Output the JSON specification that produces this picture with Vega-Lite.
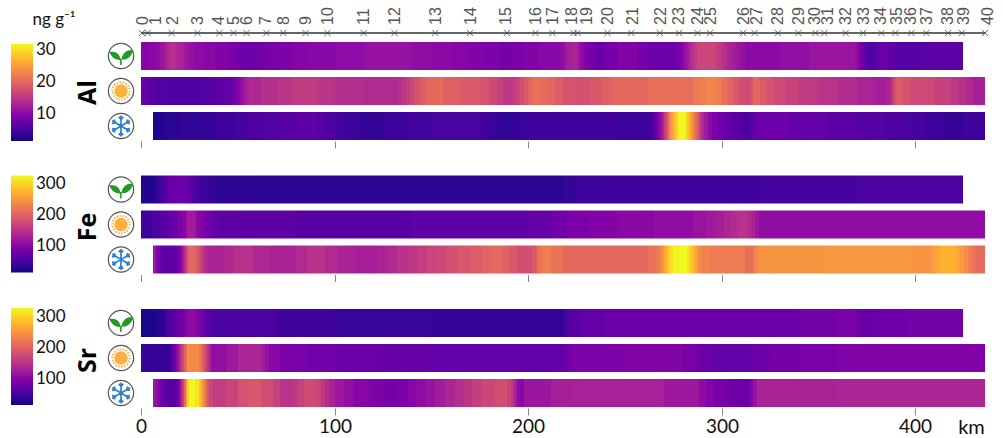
{"$schema":"https://vega.github.io/schema/vega-lite/v6.json","background":"white","padding":{"left":11,"top":7,"right":0,"bottom":0},"config":{"view":{"stroke":null},"font":"Lato"},"resolve":{"scale":{"color":"independent"},"legend":{"color":"independent"}},"datasets":{
"stations":[{"st":"0","km":0.5,"lx":0.8},{"st":"1","km":3.4,"lx":8},{"st":"2","km":15.8,"lx":16.3},{"st":"3","km":29.2,"lx":29.2},{"st":"4","km":40.5,"lx":40.5},{"st":"5","km":47.8,"lx":48.3},{"st":"6","km":54.5,"lx":55},{"st":"7","km":64.8,"lx":64.8},{"st":"8","km":73.5,"lx":74},{"st":"9","km":85,"lx":85},{"st":"10","km":96.3,"lx":96.8},{"st":"11","km":115,"lx":115.4},{"st":"12","km":131,"lx":131.4},{"st":"13","km":152,"lx":152.6},{"st":"14","km":170,"lx":170.6},{"st":"15","km":189,"lx":188.8},{"st":"16","km":203.8,"lx":204.3},{"st":"17","km":212.5,"lx":213},{"st":"18","km":223.4,"lx":222.4},{"st":"19","km":225.5,"lx":230.6},{"st":"20","km":241,"lx":241.5},{"st":"21","km":253.3,"lx":254},{"st":"22","km":268,"lx":268.8},{"st":"23","km":278,"lx":278},{"st":"24","km":287.5,"lx":287.5},{"st":"25","km":294,"lx":294.6},{"st":"26","km":311,"lx":311.5},{"st":"27","km":317,"lx":318.4},{"st":"28","km":329,"lx":329},{"st":"29","km":339.6,"lx":340},{"st":"30","km":348.4,"lx":348.4},{"st":"31","km":353,"lx":355},{"st":"32","km":364,"lx":364},{"st":"33","km":373,"lx":373.7},{"st":"34","km":382.5,"lx":382.5},{"st":"35","km":389.7,"lx":390.7},{"st":"36","km":398,"lx":398},{"st":"37","km":405.7,"lx":406},{"st":"38","km":417,"lx":417},{"st":"39","km":424,"lx":425.3},{"st":"40","km":436,"lx":437.6}],
"icons":[{"season":"spring","km":-10.5},{"season":"summer","km":-10.5},{"season":"winter","km":-10.5}],
"alSpring":[{"from":0,"to":4,"value":9.8},{"from":4,"to":8,"value":10.1},{"from":8,"to":10,"value":10.6},{"from":10,"to":12,"value":11.4},{"from":12,"to":13,"value":12.2},{"from":13,"to":14,"value":12.9},{"from":14,"to":15,"value":13.5},{"from":15,"to":17,"value":14.3},{"from":17,"to":18,"value":13.9},{"from":18,"to":20,"value":13.4},{"from":20,"to":22,"value":12.7},{"from":22,"to":24,"value":12},{"from":24,"to":26,"value":11.4},{"from":26,"to":28,"value":11},{"from":28,"to":32,"value":10.6},{"from":32,"to":38,"value":10},{"from":38,"to":45,"value":9.5},{"from":45,"to":48,"value":9},{"from":48,"to":51,"value":8.5},{"from":51,"to":55,"value":8},{"from":55,"to":60,"value":7.8},{"from":60,"to":65,"value":8.3},{"from":65,"to":70,"value":8.7},{"from":70,"to":78,"value":9.2},{"from":78,"to":85,"value":9.6},{"from":85,"to":100,"value":10},{"from":100,"to":115,"value":10.5},{"from":115,"to":140,"value":11.1},{"from":140,"to":150,"value":10.7},{"from":150,"to":160,"value":10.3},{"from":160,"to":170,"value":9.9},{"from":170,"to":178,"value":9.5},{"from":178,"to":186,"value":8.9},{"from":186,"to":192,"value":8.4},{"from":192,"to":198,"value":8.8},{"from":198,"to":205,"value":9.4},{"from":205,"to":216,"value":10},{"from":216,"to":218,"value":10.6},{"from":218,"to":219,"value":11.2},{"from":219,"to":220,"value":11.8},{"from":220,"to":222,"value":12.6},{"from":222,"to":225,"value":13.1},{"from":225,"to":226,"value":12.4},{"from":226,"to":227,"value":11.6},{"from":227,"to":228,"value":10.9},{"from":228,"to":229,"value":10.2},{"from":229,"to":230,"value":9.6},{"from":230,"to":232,"value":9},{"from":232,"to":235,"value":8.4},{"from":235,"to":240,"value":7.8},{"from":240,"to":246,"value":8.5},{"from":246,"to":252,"value":9.6},{"from":252,"to":257,"value":9.3},{"from":257,"to":262,"value":8.6},{"from":262,"to":276,"value":7.8},{"from":276,"to":278,"value":8.3},{"from":278,"to":279,"value":9},{"from":279,"to":280,"value":9.8},{"from":280,"to":281,"value":10.6},{"from":281,"to":282,"value":11.4},{"from":282,"to":283,"value":12.3},{"from":283,"to":284,"value":13.3},{"from":284,"to":285,"value":14.2},{"from":285,"to":286,"value":15},{"from":286,"to":287,"value":15.8},{"from":287,"to":290,"value":16.5},{"from":290,"to":296,"value":16.8},{"from":296,"to":298,"value":16.2},{"from":298,"to":300,"value":15.2},{"from":300,"to":302,"value":14.4},{"from":302,"to":304,"value":13.6},{"from":304,"to":306,"value":12.8},{"from":306,"to":308,"value":12.2},{"from":308,"to":310,"value":11.6},{"from":310,"to":312,"value":11},{"from":312,"to":330,"value":10.3},{"from":330,"to":345,"value":10.8},{"from":345,"to":369,"value":11.5},{"from":369,"to":370,"value":11},{"from":370,"to":371,"value":10.2},{"from":371,"to":372,"value":9.2},{"from":372,"to":373,"value":8.2},{"from":373,"to":374,"value":7.2},{"from":374,"to":375,"value":6.4},{"from":375,"to":379,"value":5.7},{"from":379,"to":382,"value":6.8},{"from":382,"to":386,"value":7.6},{"from":386,"to":390,"value":6.6},{"from":390,"to":405,"value":6.1},{"from":405,"to":424.8,"value":6.6}],
"alSummer":[{"from":0,"to":2,"value":7.5},{"from":2,"to":4,"value":6.9},{"from":4,"to":8,"value":6.3},{"from":8,"to":15,"value":5.7},{"from":15,"to":30,"value":5.4},{"from":30,"to":36,"value":5.9},{"from":36,"to":42,"value":6.5},{"from":42,"to":47,"value":7.1},{"from":47,"to":48,"value":7.6},{"from":48,"to":49,"value":8.2},{"from":49,"to":50,"value":8.9},{"from":50,"to":51,"value":9.6},{"from":51,"to":52,"value":10.5},{"from":52,"to":53,"value":11.4},{"from":53,"to":54,"value":12.1},{"from":54,"to":56,"value":12.9},{"from":56,"to":62,"value":13.5},{"from":62,"to":70,"value":14.2},{"from":70,"to":78,"value":14.8},{"from":78,"to":92,"value":15.5},{"from":92,"to":100,"value":14.7},{"from":100,"to":115,"value":14.1},{"from":115,"to":133,"value":13.7},{"from":133,"to":135,"value":14.2},{"from":135,"to":137,"value":15},{"from":137,"to":139,"value":15.9},{"from":139,"to":141,"value":16.9},{"from":141,"to":143,"value":17.8},{"from":143,"to":145,"value":18.6},{"from":145,"to":147,"value":19.4},{"from":147,"to":150,"value":20.2},{"from":150,"to":156,"value":20.4},{"from":156,"to":165,"value":19.4},{"from":165,"to":175,"value":18.7},{"from":175,"to":180,"value":18},{"from":180,"to":184,"value":17},{"from":184,"to":187,"value":16},{"from":187,"to":192,"value":15.2},{"from":192,"to":194,"value":15.8},{"from":194,"to":196,"value":16.6},{"from":196,"to":198,"value":17.5},{"from":198,"to":200,"value":18.6},{"from":200,"to":202,"value":19.8},{"from":202,"to":206,"value":21},{"from":206,"to":210,"value":20.6},{"from":210,"to":214,"value":19.9},{"from":214,"to":218,"value":19},{"from":218,"to":224,"value":18},{"from":224,"to":232,"value":17.7},{"from":232,"to":238,"value":18.6},{"from":238,"to":244,"value":19.5},{"from":244,"to":262,"value":20.2},{"from":262,"to":285,"value":20.9},{"from":285,"to":289,"value":21.7},{"from":289,"to":292,"value":22.4},{"from":292,"to":297,"value":23},{"from":297,"to":300,"value":22.2},{"from":300,"to":303,"value":21},{"from":303,"to":306,"value":19.9},{"from":306,"to":309,"value":18.6},{"from":309,"to":315,"value":17.5},{"from":315,"to":316,"value":18.6},{"from":316,"to":318,"value":20.2},{"from":318,"to":320,"value":19.8},{"from":320,"to":323,"value":18.9},{"from":323,"to":327,"value":18},{"from":327,"to":333,"value":17},{"from":333,"to":340,"value":16.2},{"from":340,"to":350,"value":15.3},{"from":350,"to":360,"value":14.6},{"from":360,"to":370,"value":13.9},{"from":370,"to":378,"value":13},{"from":378,"to":385,"value":12.4},{"from":385,"to":387,"value":13},{"from":387,"to":388,"value":14},{"from":388,"to":389,"value":15.6},{"from":389,"to":390,"value":17.6},{"from":390,"to":393,"value":19},{"from":393,"to":398,"value":18},{"from":398,"to":410,"value":17},{"from":410,"to":418,"value":16.2},{"from":418,"to":422,"value":15.4},{"from":422,"to":426,"value":14.5},{"from":426,"to":430,"value":13.6},{"from":430,"to":436,"value":12.6}],
"alWinter":[{"from":6,"to":9,"value":2.2},{"from":9,"to":13,"value":2.7},{"from":13,"to":20,"value":3.1},{"from":20,"to":30,"value":3.5},{"from":30,"to":40,"value":3.9},{"from":40,"to":48,"value":4.4},{"from":48,"to":55,"value":4.9},{"from":55,"to":63,"value":5.4},{"from":63,"to":72,"value":5.9},{"from":72,"to":80,"value":6.3},{"from":80,"to":90,"value":6.7},{"from":90,"to":95,"value":6.1},{"from":95,"to":100,"value":5.4},{"from":100,"to":106,"value":4.8},{"from":106,"to":112,"value":4.2},{"from":112,"to":125,"value":3.7},{"from":125,"to":138,"value":4.2},{"from":138,"to":150,"value":4.7},{"from":150,"to":175,"value":5.1},{"from":175,"to":180,"value":4.6},{"from":180,"to":186,"value":4},{"from":186,"to":193,"value":3.5},{"from":193,"to":200,"value":4},{"from":200,"to":245,"value":4.6},{"from":245,"to":262,"value":4.2},{"from":262,"to":264,"value":4.8},{"from":264,"to":265,"value":5.6},{"from":265,"to":266,"value":6.6},{"from":266,"to":267,"value":7.8},{"from":267,"to":268,"value":9.4},{"from":268,"to":269,"value":11},{"from":269,"to":270,"value":13},{"from":270,"to":271,"value":15.5},{"from":271,"to":272,"value":18},{"from":272,"to":273,"value":20.5},{"from":273,"to":274,"value":23},{"from":274,"to":275,"value":25},{"from":275,"to":276,"value":27},{"from":276,"to":277,"value":28.8},{"from":277,"to":278,"value":30.2},{"from":278,"to":281,"value":31.9},{"from":281,"to":282,"value":30.2},{"from":282,"to":283,"value":28.4},{"from":283,"to":284,"value":26.4},{"from":284,"to":285,"value":24.4},{"from":285,"to":286,"value":22.4},{"from":286,"to":287,"value":20.4},{"from":287,"to":288,"value":18.4},{"from":288,"to":289,"value":16.6},{"from":289,"to":290,"value":15},{"from":290,"to":291,"value":13.5},{"from":291,"to":293,"value":12},{"from":293,"to":295,"value":10.4},{"from":295,"to":298,"value":9.2},{"from":298,"to":301,"value":8.2},{"from":301,"to":305,"value":7.4},{"from":305,"to":310,"value":6.5},{"from":310,"to":314,"value":5.6},{"from":314,"to":316,"value":6},{"from":316,"to":318,"value":7.5},{"from":318,"to":335,"value":7.9},{"from":335,"to":355,"value":7.1},{"from":355,"to":370,"value":6.6},{"from":370,"to":385,"value":6},{"from":385,"to":395,"value":5.6},{"from":395,"to":405,"value":5},{"from":405,"to":415,"value":4.3},{"from":415,"to":425,"value":3.8},{"from":425,"to":436,"value":4.4}],
"feSpring":[{"from":0,"to":6,"value":22},{"from":6,"to":8,"value":26},{"from":8,"to":9,"value":32},{"from":9,"to":10,"value":38},{"from":10,"to":11,"value":44},{"from":11,"to":12,"value":50},{"from":12,"to":13,"value":56},{"from":13,"to":14,"value":62},{"from":14,"to":15,"value":68},{"from":15,"to":18,"value":74},{"from":18,"to":24,"value":77},{"from":24,"to":25,"value":72},{"from":25,"to":26,"value":66},{"from":26,"to":27,"value":60},{"from":27,"to":28,"value":54},{"from":28,"to":30,"value":48},{"from":30,"to":33,"value":42},{"from":33,"to":38,"value":36},{"from":38,"to":60,"value":31},{"from":60,"to":218,"value":29},{"from":218,"to":224,"value":36},{"from":224,"to":240,"value":41},{"from":240,"to":320,"value":44},{"from":320,"to":370,"value":47},{"from":370,"to":424.8,"value":51}],
"feSummer":[{"from":0,"to":6,"value":44},{"from":6,"to":10,"value":52},{"from":10,"to":14,"value":60},{"from":14,"to":16,"value":68},{"from":16,"to":19,"value":76},{"from":19,"to":21,"value":86},{"from":21,"to":23,"value":98},{"from":23,"to":24,"value":110},{"from":24,"to":28,"value":122},{"from":28,"to":29,"value":112},{"from":29,"to":31,"value":100},{"from":31,"to":33,"value":90},{"from":33,"to":36,"value":80},{"from":36,"to":40,"value":72},{"from":40,"to":80,"value":65},{"from":80,"to":140,"value":60},{"from":140,"to":200,"value":66},{"from":200,"to":212,"value":72},{"from":212,"to":220,"value":80},{"from":220,"to":232,"value":88},{"from":232,"to":246,"value":95},{"from":246,"to":265,"value":102},{"from":265,"to":285,"value":107},{"from":285,"to":292,"value":113},{"from":292,"to":297,"value":119},{"from":297,"to":301,"value":126},{"from":301,"to":305,"value":133},{"from":305,"to":308,"value":139},{"from":308,"to":313,"value":146},{"from":313,"to":315,"value":140},{"from":315,"to":317,"value":130},{"from":317,"to":319,"value":118},{"from":319,"to":436,"value":107}],
"feWinter":[{"from":6,"to":7,"value":118},{"from":7,"to":8,"value":108},{"from":8,"to":9,"value":96},{"from":9,"to":10,"value":84},{"from":10,"to":11,"value":74},{"from":11,"to":18,"value":65},{"from":18,"to":19,"value":72},{"from":19,"to":20,"value":84},{"from":20,"to":21,"value":100},{"from":21,"to":22,"value":120},{"from":22,"to":23,"value":142},{"from":23,"to":24,"value":165},{"from":24,"to":25,"value":188},{"from":25,"to":27,"value":205},{"from":27,"to":29,"value":200},{"from":29,"to":30,"value":185},{"from":30,"to":31,"value":172},{"from":31,"to":32,"value":158},{"from":32,"to":33,"value":146},{"from":33,"to":35,"value":136},{"from":35,"to":43,"value":130},{"from":43,"to":48,"value":136},{"from":48,"to":58,"value":144},{"from":58,"to":66,"value":136},{"from":66,"to":80,"value":130},{"from":80,"to":86,"value":138},{"from":86,"to":95,"value":146},{"from":95,"to":102,"value":138},{"from":102,"to":110,"value":130},{"from":110,"to":122,"value":126},{"from":122,"to":127,"value":131},{"from":127,"to":132,"value":138},{"from":132,"to":138,"value":146},{"from":138,"to":143,"value":152},{"from":143,"to":148,"value":160},{"from":148,"to":153,"value":167},{"from":153,"to":158,"value":173},{"from":158,"to":164,"value":180},{"from":164,"to":170,"value":187},{"from":170,"to":176,"value":194},{"from":176,"to":180,"value":200},{"from":180,"to":186,"value":206},{"from":186,"to":190,"value":200},{"from":190,"to":194,"value":190},{"from":194,"to":202,"value":178},{"from":202,"to":204,"value":188},{"from":204,"to":205,"value":200},{"from":205,"to":207,"value":215},{"from":207,"to":212,"value":226},{"from":212,"to":218,"value":216},{"from":218,"to":262,"value":207},{"from":262,"to":266,"value":214},{"from":266,"to":268,"value":224},{"from":268,"to":269,"value":236},{"from":269,"to":270,"value":248},{"from":270,"to":271,"value":262},{"from":271,"to":272,"value":276},{"from":272,"to":273,"value":290},{"from":273,"to":274,"value":302},{"from":274,"to":275,"value":312},{"from":275,"to":278,"value":322},{"from":278,"to":282,"value":326},{"from":282,"to":283,"value":312},{"from":283,"to":284,"value":298},{"from":284,"to":285,"value":285},{"from":285,"to":286,"value":272},{"from":286,"to":287,"value":260},{"from":287,"to":288,"value":248},{"from":288,"to":290,"value":238},{"from":290,"to":294,"value":230},{"from":294,"to":312,"value":224},{"from":312,"to":316,"value":212},{"from":316,"to":317,"value":225},{"from":317,"to":319,"value":238},{"from":319,"to":322,"value":246},{"from":322,"to":355,"value":248},{"from":355,"to":400,"value":250},{"from":400,"to":408,"value":246},{"from":408,"to":410,"value":254},{"from":410,"to":413,"value":262},{"from":413,"to":421,"value":272},{"from":421,"to":423,"value":262},{"from":423,"to":425,"value":252},{"from":425,"to":427,"value":240},{"from":427,"to":429,"value":228},{"from":429,"to":431,"value":218},{"from":431,"to":436,"value":208}],
"srSpring":[{"from":0,"to":8,"value":21},{"from":8,"to":10,"value":27},{"from":10,"to":12,"value":34},{"from":12,"to":13,"value":41},{"from":13,"to":14,"value":49},{"from":14,"to":16,"value":58},{"from":16,"to":18,"value":66},{"from":18,"to":20,"value":74},{"from":20,"to":22,"value":84},{"from":22,"to":24,"value":95},{"from":24,"to":28,"value":108},{"from":28,"to":30,"value":100},{"from":30,"to":31,"value":90},{"from":31,"to":32,"value":80},{"from":32,"to":34,"value":70},{"from":34,"to":37,"value":60},{"from":37,"to":70,"value":52},{"from":70,"to":100,"value":45},{"from":100,"to":150,"value":40},{"from":150,"to":218,"value":37},{"from":218,"to":219,"value":44},{"from":219,"to":220,"value":50},{"from":220,"to":222,"value":58},{"from":222,"to":228,"value":64},{"from":228,"to":240,"value":70},{"from":240,"to":340,"value":78},{"from":340,"to":360,"value":84},{"from":360,"to":370,"value":89},{"from":370,"to":375,"value":78},{"from":375,"to":380,"value":74},{"from":380,"to":395,"value":80},{"from":395,"to":424.8,"value":84}],
"srSummer":[{"from":0,"to":15,"value":38},{"from":15,"to":16,"value":50},{"from":16,"to":17,"value":64},{"from":17,"to":18,"value":82},{"from":18,"to":19,"value":102},{"from":19,"to":20,"value":125},{"from":20,"to":21,"value":150},{"from":21,"to":22,"value":175},{"from":22,"to":23,"value":198},{"from":23,"to":24,"value":218},{"from":24,"to":30,"value":240},{"from":30,"to":31,"value":225},{"from":31,"to":32,"value":208},{"from":32,"to":33,"value":190},{"from":33,"to":34,"value":170},{"from":34,"to":35,"value":150},{"from":35,"to":36,"value":132},{"from":36,"to":44,"value":110},{"from":44,"to":50,"value":120},{"from":50,"to":62,"value":134},{"from":62,"to":64,"value":124},{"from":64,"to":66,"value":112},{"from":66,"to":72,"value":100},{"from":72,"to":85,"value":90},{"from":85,"to":100,"value":83},{"from":100,"to":125,"value":78},{"from":125,"to":150,"value":74},{"from":150,"to":218,"value":70},{"from":218,"to":220,"value":76},{"from":220,"to":222,"value":84},{"from":222,"to":250,"value":92},{"from":250,"to":280,"value":95},{"from":280,"to":287,"value":88},{"from":287,"to":295,"value":78},{"from":295,"to":315,"value":71},{"from":315,"to":325,"value":78},{"from":325,"to":340,"value":85},{"from":340,"to":360,"value":90},{"from":360,"to":436,"value":95}],
"srWinter":[{"from":6,"to":7,"value":122},{"from":7,"to":9,"value":110},{"from":9,"to":10,"value":96},{"from":10,"to":11,"value":84},{"from":11,"to":13,"value":74},{"from":13,"to":18,"value":64},{"from":18,"to":19,"value":72},{"from":19,"to":20,"value":92},{"from":20,"to":21,"value":125},{"from":21,"to":22,"value":165},{"from":22,"to":23,"value":210},{"from":23,"to":24,"value":262},{"from":24,"to":25,"value":300},{"from":25,"to":28,"value":325},{"from":28,"to":30,"value":312},{"from":30,"to":31,"value":290},{"from":31,"to":32,"value":262},{"from":32,"to":33,"value":238},{"from":33,"to":34,"value":212},{"from":34,"to":35,"value":190},{"from":35,"to":37,"value":172},{"from":37,"to":44,"value":160},{"from":44,"to":50,"value":168},{"from":50,"to":55,"value":182},{"from":55,"to":62,"value":190},{"from":62,"to":68,"value":178},{"from":68,"to":72,"value":165},{"from":72,"to":78,"value":150},{"from":78,"to":81,"value":155},{"from":81,"to":84,"value":165},{"from":84,"to":90,"value":176},{"from":90,"to":93,"value":170},{"from":93,"to":95,"value":155},{"from":95,"to":97,"value":143},{"from":97,"to":100,"value":132},{"from":100,"to":105,"value":120},{"from":105,"to":110,"value":110},{"from":110,"to":118,"value":100},{"from":118,"to":125,"value":92},{"from":125,"to":133,"value":87},{"from":133,"to":138,"value":92},{"from":138,"to":142,"value":100},{"from":142,"to":147,"value":108},{"from":147,"to":152,"value":115},{"from":152,"to":157,"value":124},{"from":157,"to":162,"value":134},{"from":162,"to":167,"value":144},{"from":167,"to":171,"value":153},{"from":171,"to":176,"value":163},{"from":176,"to":183,"value":172},{"from":183,"to":189,"value":180},{"from":189,"to":191,"value":168},{"from":191,"to":192,"value":155},{"from":192,"to":193,"value":140},{"from":193,"to":194,"value":125},{"from":194,"to":196,"value":108},{"from":196,"to":198,"value":100},{"from":198,"to":212,"value":118},{"from":212,"to":222,"value":128},{"from":222,"to":270,"value":130},{"from":270,"to":288,"value":120},{"from":288,"to":292,"value":108},{"from":292,"to":296,"value":98},{"from":296,"to":302,"value":88},{"from":302,"to":308,"value":82},{"from":308,"to":314,"value":78},{"from":314,"to":315,"value":88},{"from":315,"to":316,"value":100},{"from":316,"to":318,"value":114},{"from":318,"to":360,"value":132},{"from":360,"to":436,"value":134}]},
"vconcat":[
{"width":844,"height":2,"layer":[
{"data":{"values":[{"from":0,"to":436}]},"mark":{"type":"rule","color":"#333333","strokeWidth":1.5},"encoding":{"x":{"field":"from","type":"quantitative","scale":{"domain":[0,436],"nice":false,"zero":false},"axis":null},"x2":{"field":"to"}}},
{"data":{"name":"stations"},"mark":{"type":"point","shape":"M-.9,-.9L.9,.9M-.9,.9L.9,-.9","size":49,"stroke":"#444444","strokeWidth":0.8,"filled":false,"opacity":1},"encoding":{"x":{"field":"km","type":"quantitative"}}},
{"data":{"name":"stations"},"mark":{"type":"text","angle":-90,"align":"left","baseline":"middle","dx":8,"font":"Liberation Sans","fontSize":16,"color":"#555555"},"encoding":{"x":{"field":"lx","type":"quantitative"},"text":{"field":"st"}}},
{"data":{"values":[{"km":-56,"label":"ng g⁻¹"}]},"mark":{"type":"text","align":"left","baseline":"middle","dy":-13,"font":"Lato","fontSize":17,"color":"#111111"},"encoding":{"x":{"field":"km","type":"quantitative"},"text":{"field":"label"}}}
]},
{"spacing":24.5,"resolve":{"scale":{"color":"independent"},"legend":{"color":"independent"}},"vconcat":[
{"width":844,"height":98,"layer":[
{"encoding":{"x":{"field":"from","type":"quantitative","scale":{"domain":[0,436],"nice":false,"zero":false,"round":true},"axis":{"values":[0,100,200,300,400],"labels":false,"title":null,"domain":false,"grid":false,"tickSize":7,"tickColor":"#888888","offset":1}},"x2":{"field":"to"},"color":{"field":"value","type":"quantitative","scale":{"scheme":"plasma","domain":[1.6,31.9]},"legend":{"orient":"none","legendX":-130,"legendY":2,"title":null,"gradientLength":97,"gradientThickness":22,"values":[10,20,30],"labelFontSize":17,"labelFont":"Lato","labelColor":"#111111","labelOffset":3}}},"layer":[
{"data":{"name":"alSpring"},"mark":{"type":"rect"},"encoding":{"y":{"datum":"spring","type":"nominal","scale":{"domain":["spring","summer","winter"],"paddingInner":0.2,"paddingOuter":0},"axis":{"title":"Al","labels":false,"ticks":false,"domain":false,"grid":false,"titleFontSize":25,"titleFontWeight":"bold","titleFont":"Open Sans","titleColor":"#000000","titleX":-54,"titleY":50,"titleBaseline":"middle"}}}},
{"data":{"name":"alSummer"},"mark":{"type":"rect"},"encoding":{"y":{"datum":"summer","type":"nominal"}}},
{"data":{"name":"alWinter"},"mark":{"type":"rect"},"encoding":{"y":{"datum":"winter","type":"nominal"}}}]},
{"data":{"name":"icons"},"mark":{"type":"point","shape":"circle","size":640,"filled":true,"fill":"white","stroke":"#555555","strokeWidth":1.2,"opacity":1},"encoding":{"x":{"field":"km","type":"quantitative"},"y":{"field":"season","type":"nominal"}}},
{"data":{"name":"icons"},"transform":[{"filter":"datum.season==='spring'"}],"mark":{"type":"point","shape":"M-.05,.3C-.6,.35 -.8,-.1 -.9,-.3C-.4,-.4 -.05,-.15 -.05,.3ZM.05,.25C.1,-.25 .5,-.5 .95,-.45C.8,0 .5,.35 .05,.25ZM-.07,.2L.05,.2L.05,.7L-.07,.7Z","size":676,"filled":true,"fill":"#1e9a25","strokeWidth":0,"opacity":1},"encoding":{"x":{"field":"km","type":"quantitative"},"y":{"field":"season","type":"nominal"}}},
{"data":{"name":"icons"},"transform":[{"filter":"datum.season==='summer'"}],"mark":{"type":"point","shape":"circle","size":180,"filled":true,"fill":"#fbb040","strokeWidth":0,"opacity":1},"encoding":{"x":{"field":"km","type":"quantitative"},"y":{"field":"season","type":"nominal"}}},
{"data":{"name":"icons"},"transform":[{"filter":"datum.season==='summer'"}],"mark":{"type":"point","shape":"circle","size":300,"filled":false,"stroke":"#fbb040","strokeWidth":2,"strokeDash":[1.5,1.5],"opacity":1},"encoding":{"x":{"field":"km","type":"quantitative"},"y":{"field":"season","type":"nominal"}}},
{"data":{"name":"icons"},"transform":[{"filter":"datum.season==='winter'"}],"mark":{"type":"point","shape":"M0,-.8L0,.8M-.69,-.4L.69,.4M-.69,.4L.69,-.4M-.17,-.7L0,-.5L.17,-.7M.521,-.497L.433,-.25L.691,-.203M.691,.203L.433,.25L.521,.497M.17,.7L0,.5L-.17,.7M-.521,.497L-.433,.25L-.691,.203M-.691,-.203L-.433,-.25L-.521,-.497","size":676,"filled":false,"stroke":"#2b7fce","strokeWidth":1.7,"opacity":1},"encoding":{"x":{"field":"km","type":"quantitative"},"y":{"field":"season","type":"nominal"}}}
]},
{"width":844,"height":98,"layer":[
{"encoding":{"x":{"field":"from","type":"quantitative","scale":{"domain":[0,436],"nice":false,"zero":false,"round":true},"axis":{"values":[0,100,200,300,400],"labels":false,"title":null,"domain":false,"grid":false,"tickSize":7,"tickColor":"#888888","offset":1}},"x2":{"field":"to"},"color":{"field":"value","type":"quantitative","scale":{"scheme":"plasma","domain":[13,326]},"legend":{"orient":"none","legendX":-130,"legendY":0,"title":null,"gradientLength":97,"gradientThickness":22,"values":[100,200,300],"labelFontSize":17,"labelFont":"Lato","labelColor":"#111111","labelOffset":3}}},"layer":[
{"data":{"name":"feSpring"},"mark":{"type":"rect"},"encoding":{"y":{"datum":"spring","type":"nominal","scale":{"domain":["spring","summer","winter"],"paddingInner":0.2,"paddingOuter":0},"axis":{"title":"Fe","labels":false,"ticks":false,"domain":false,"grid":false,"titleFontSize":25,"titleFontWeight":"bold","titleFont":"Open Sans","titleColor":"#000000","titleX":-54,"titleY":51,"titleBaseline":"middle"}}}},
{"data":{"name":"feSummer"},"mark":{"type":"rect"},"encoding":{"y":{"datum":"summer","type":"nominal"}}},
{"data":{"name":"feWinter"},"mark":{"type":"rect"},"encoding":{"y":{"datum":"winter","type":"nominal"}}}]},
{"data":{"name":"icons"},"mark":{"type":"point","shape":"circle","size":640,"filled":true,"fill":"white","stroke":"#555555","strokeWidth":1.2,"opacity":1},"encoding":{"x":{"field":"km","type":"quantitative"},"y":{"field":"season","type":"nominal"}}},
{"data":{"name":"icons"},"transform":[{"filter":"datum.season==='spring'"}],"mark":{"type":"point","shape":"M-.05,.3C-.6,.35 -.8,-.1 -.9,-.3C-.4,-.4 -.05,-.15 -.05,.3ZM.05,.25C.1,-.25 .5,-.5 .95,-.45C.8,0 .5,.35 .05,.25ZM-.07,.2L.05,.2L.05,.7L-.07,.7Z","size":676,"filled":true,"fill":"#1e9a25","strokeWidth":0,"opacity":1},"encoding":{"x":{"field":"km","type":"quantitative"},"y":{"field":"season","type":"nominal"}}},
{"data":{"name":"icons"},"transform":[{"filter":"datum.season==='summer'"}],"mark":{"type":"point","shape":"circle","size":180,"filled":true,"fill":"#fbb040","strokeWidth":0,"opacity":1},"encoding":{"x":{"field":"km","type":"quantitative"},"y":{"field":"season","type":"nominal"}}},
{"data":{"name":"icons"},"transform":[{"filter":"datum.season==='summer'"}],"mark":{"type":"point","shape":"circle","size":300,"filled":false,"stroke":"#fbb040","strokeWidth":2,"strokeDash":[1.5,1.5],"opacity":1},"encoding":{"x":{"field":"km","type":"quantitative"},"y":{"field":"season","type":"nominal"}}},
{"data":{"name":"icons"},"transform":[{"filter":"datum.season==='winter'"}],"mark":{"type":"point","shape":"M0,-.8L0,.8M-.69,-.4L.69,.4M-.69,.4L.69,-.4M-.17,-.7L0,-.5L.17,-.7M.521,-.497L.433,-.25L.691,-.203M.691,.203L.433,.25L.521,.497M.17,.7L0,.5L-.17,.7M-.521,.497L-.433,.25L-.691,.203M-.691,-.203L-.433,-.25L-.521,-.497","size":676,"filled":false,"stroke":"#2b7fce","strokeWidth":1.7,"opacity":1},"encoding":{"x":{"field":"km","type":"quantitative"},"y":{"field":"season","type":"nominal"}}}
]},
{"width":844,"height":98,"layer":[
{"encoding":{"x":{"field":"from","type":"quantitative","scale":{"domain":[0,436],"nice":false,"zero":false,"round":true},"axis":{"values":[0,100,200,300,400],"title":"km","titleFont":"Lato","titleFontSize":20,"titleFontWeight":"normal","titleColor":"#111111","titleX":830,"titleY":9,"titleAlign":"center","labelFontSize":19,"labelFont":"Lato","labelColor":"#111111","labelPadding":2,"labelFlush":false,"domain":false,"grid":false,"tickSize":7,"tickColor":"#888888","offset":1}},"x2":{"field":"to"},"color":{"field":"value","type":"quantitative","scale":{"scheme":"plasma","domain":[15,328]},"legend":{"orient":"none","legendX":-130,"legendY":-1,"title":null,"gradientLength":97,"gradientThickness":22,"values":[100,200,300],"labelFontSize":17,"labelFont":"Lato","labelColor":"#111111","labelOffset":3}}},"layer":[
{"data":{"name":"srSpring"},"mark":{"type":"rect"},"encoding":{"y":{"datum":"spring","type":"nominal","scale":{"domain":["spring","summer","winter"],"paddingInner":0.2,"paddingOuter":0},"axis":{"title":"Sr","labels":false,"ticks":false,"domain":false,"grid":false,"titleFontSize":25,"titleFontWeight":"bold","titleFont":"Open Sans","titleColor":"#000000","titleX":-54,"titleY":51,"titleBaseline":"middle"}}}},
{"data":{"name":"srSummer"},"mark":{"type":"rect"},"encoding":{"y":{"datum":"summer","type":"nominal"}}},
{"data":{"name":"srWinter"},"mark":{"type":"rect"},"encoding":{"y":{"datum":"winter","type":"nominal"}}}]},
{"data":{"name":"icons"},"mark":{"type":"point","shape":"circle","size":640,"filled":true,"fill":"white","stroke":"#555555","strokeWidth":1.2,"opacity":1},"encoding":{"x":{"field":"km","type":"quantitative"},"y":{"field":"season","type":"nominal"}}},
{"data":{"name":"icons"},"transform":[{"filter":"datum.season==='spring'"}],"mark":{"type":"point","shape":"M-.05,.3C-.6,.35 -.8,-.1 -.9,-.3C-.4,-.4 -.05,-.15 -.05,.3ZM.05,.25C.1,-.25 .5,-.5 .95,-.45C.8,0 .5,.35 .05,.25ZM-.07,.2L.05,.2L.05,.7L-.07,.7Z","size":676,"filled":true,"fill":"#1e9a25","strokeWidth":0,"opacity":1},"encoding":{"x":{"field":"km","type":"quantitative"},"y":{"field":"season","type":"nominal"}}},
{"data":{"name":"icons"},"transform":[{"filter":"datum.season==='summer'"}],"mark":{"type":"point","shape":"circle","size":180,"filled":true,"fill":"#fbb040","strokeWidth":0,"opacity":1},"encoding":{"x":{"field":"km","type":"quantitative"},"y":{"field":"season","type":"nominal"}}},
{"data":{"name":"icons"},"transform":[{"filter":"datum.season==='summer'"}],"mark":{"type":"point","shape":"circle","size":300,"filled":false,"stroke":"#fbb040","strokeWidth":2,"strokeDash":[1.5,1.5],"opacity":1},"encoding":{"x":{"field":"km","type":"quantitative"},"y":{"field":"season","type":"nominal"}}},
{"data":{"name":"icons"},"transform":[{"filter":"datum.season==='winter'"}],"mark":{"type":"point","shape":"M0,-.8L0,.8M-.69,-.4L.69,.4M-.69,.4L.69,-.4M-.17,-.7L0,-.5L.17,-.7M.521,-.497L.433,-.25L.691,-.203M.691,.203L.433,.25L.521,.497M.17,.7L0,.5L-.17,.7M-.521,.497L-.433,.25L-.691,.203M-.691,-.203L-.433,-.25L-.521,-.497","size":676,"filled":false,"stroke":"#2b7fce","strokeWidth":1.7,"opacity":1},"encoding":{"x":{"field":"km","type":"quantitative"},"y":{"field":"season","type":"nominal"}}}
]}
]}
],"spacing":2}
